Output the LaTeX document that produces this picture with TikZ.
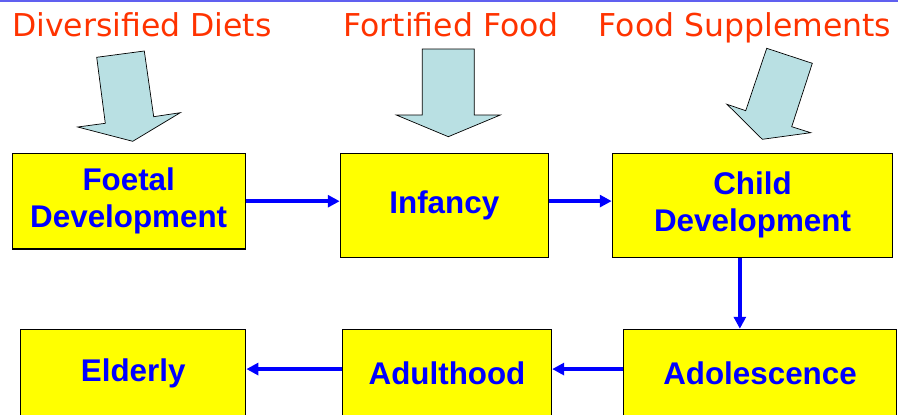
\documentclass[tikz,border=0pt]{standalone}
\usepackage{fontspec}
\newfontfamily\labelfont{DejaVu Sans}
\newfontfamily\stagefont{Liberation Sans}
\usetikzlibrary{arrows.meta}
\definecolor{foodred}{RGB}{255,51,0}
\definecolor{stageblue}{RGB}{0,0,255}
\definecolor{stageyellow}{RGB}{255,255,0}
\definecolor{arrowfill}{RGB}{185,224,227}
\definecolor{rulecolor}{RGB}{96,96,240}

\begin{document}
\begin{tikzpicture}[x=0.025cm,y=-0.025cm,>={Triangle[length=8.5pt,width=8.5pt]},
  flow/.style={->,draw=stageblue,fill=stageblue,line width=2.5pt},
  food/.style={anchor=base,text=foodred,font=\labelfont\fontsize{22.4}{27}\selectfont},
  bigarrow/.style={draw=black,line width=0.5pt,fill=arrowfill,line join=miter}]
  \tikzstyle{stage}=[draw=black,line width=0.8pt,fill=stageyellow,text=stageblue,inner sep=0pt,align=center,font=\stagefont\bfseries\fontsize{22.3}{26.2}\selectfont]

  \useasboundingbox (0,0) rectangle (898,414);
  \clip (0,0) rectangle (898,414);

  \draw[rulecolor,line width=1.5pt] (0,1) -- (898,1);

  \node[food] (diets)       at (142,36.7) {Diversified Diets};
  \node[food] (fortified)   at (451,36.7) {Fortified Food};
  \node[food] (supplements) at (745,36.7) {Food Supplements};

  % block arrows under the headings
  \draw[bigarrow] (96.7,57.3) -- (144.3,51) -- (153.7,116.7) -- (180.3,112.7) -- (132.7,141.3) -- (77.7,127) -- (105.3,123.3) -- cycle;
  \draw[bigarrow] (422.3,49) -- (474.3,49) -- (474.3,115) -- (500.3,115) -- (448.3,136.7) -- (396.3,115) -- (422.3,115) -- cycle;
  \draw[bigarrow] (766.7,48.3) -- (812.3,63.3) -- (791.7,126.7) -- (810.7,132.7) -- (762.3,139.3) -- (727,104.3) -- (745.7,110.7) -- cycle;

  \node[stage,minimum width=5.82cm,minimum height=2.39cm] (foetal)      at (128.7,201.2) {Foetal\\Development};
  \node[stage,minimum width=5.2cm,minimum height=2.6cm]   (infancy)     at (444.3,205.3) {Infancy};
  \node[stage,minimum width=7.01cm,minimum height=2.6cm]  (child)       at (752.5,205.3) {Child\\Development};
  \node[stage,minimum width=6.82cm,minimum height=2.22cm] (adolescence) at (760,373.7)   {Adolescence};
  \node[stage,minimum width=5.23cm,minimum height=2.22cm] (adulthood)   at (447,373.7)   {Adulthood};
  \node[stage,minimum width=5.63cm,minimum height=2.22cm] (elderly)     at (133.2,373.7) {Elderly};

  \draw[flow] (foetal.east) -- (foetal.east -| infancy.west);
  \draw[flow] ([yshift=3pt]infancy.east) -- ([yshift=3pt]child.west);
  \draw[flow] ([xshift=-9pt]child.south) -- ([xshift=-9pt]child.south |- adolescence.north);
  \draw[flow] ([yshift=3.3pt]adolescence.west) -- ([yshift=3.3pt]adulthood.east);
  \draw[flow] ([yshift=3.3pt]adulthood.west) -- ([yshift=3.3pt]elderly.east);
\end{tikzpicture}
\end{document}
